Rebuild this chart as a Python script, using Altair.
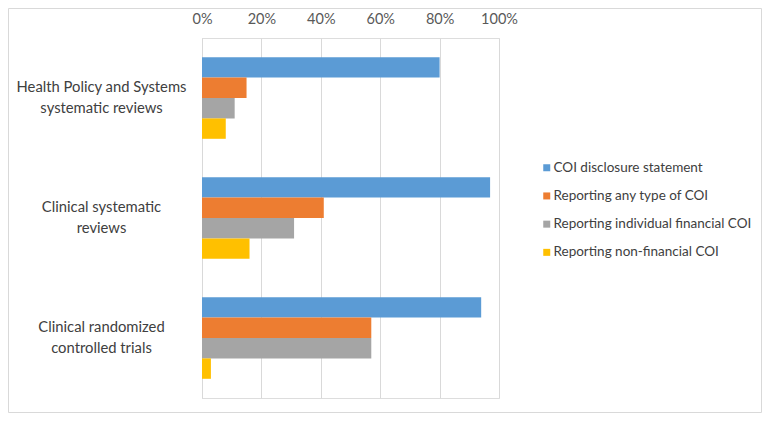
import altair as alt
import pandas as pd

categories = [
    "Health Policy and Systems|systematic reviews",
    "Clinical systematic|reviews",
    "Clinical randomized|controlled trials",
]
series = [
    "COI disclosure statement",
    "Reporting any type of COI",
    "Reporting individual financial COI",
    "Reporting non-financial COI",
]
disclosure = [80, 97, 94]
any_type = [15, 41, 57]
individual_fin = [11, 31, 57]
non_fin = [8, 16, 3]
colors = ["#5B9BD5", "#ED7D31", "#A5A5A5", "#FFC000"]
tick_values = [0, 0.2, 0.4, 0.6, 0.8, 1.0]

rows = []
for s, vals in zip(series, [disclosure, any_type, individual_fin, non_fin]):
    for c, v in zip(categories, vals):
        rows.append({"category": c, "series": s, "value": v / 100})
df = pd.DataFrame(rows)

FONT = "Lato"

bars = alt.Chart(df).mark_bar().encode(
    x=alt.X(
        "value:Q",
        scale=alt.Scale(domain=[0, 1], nice=False, zero=True),
        axis=alt.Axis(
            orient="top",
            values=tick_values,
            format=".0%",
            domain=False,
            ticks=False,
            tickSize=0,
            labelPadding=12,
            labelFlush=False,
            labelOverlap=False,
            grid=True,
            gridColor="#D9D9D9",
            gridWidth=1,
            labelColor="#595959",
            labelFont=FONT,
            labelFontSize=14.5,
            title=None,
        ),
    ),
    y=alt.Y(
        "category:N",
        sort=categories,
        scale=alt.Scale(paddingInner=0.32, paddingOuter=0.16),
        axis=alt.Axis(
            title=None,
            domain=True,
            domainColor="#D9D9D9",
            ticks=False,
            tickSize=0,
            labelAlign="center",
            labelBaseline="middle",
            labelPadding=101,
            labelOffset=-10.5,
            labelExpr="split(datum.label, '|')",
            labelLineHeight=21,
            labelColor="#404040",
            labelFont=FONT,
            labelFontSize=14.8,
            labelLimit=300,
        ),
    ),
    yOffset=alt.YOffset("series:N", sort=series, scale=alt.Scale(paddingInner=0, paddingOuter=0)),
    color=alt.Color(
        "series:N",
        sort=series,
        scale=alt.Scale(domain=series, range=colors),
        legend=alt.Legend(
            title=None,
            orient="none",
            legendX=338,
            legendY=123,
            symbolType="square",
            symbolSize=49,
            symbolStrokeWidth=0,
            labelOffset=0,
            rowPadding=13.2,
            padding=0,
            labelColor="#404040",
            labelFont=FONT,
            labelFontSize=13.5,
            labelLimit=300,
        ),
    ),
)

border = alt.Chart(alt.Data(values=[{"a": 1}])).mark_rect(
    fill="transparent", stroke="#D9D9D9", strokeWidth=1
).encode(
    x=alt.value(-193.5),
    x2=alt.value(559.5),
    y=alt.value(-29.5),
    y2=alt.value(374.5),
)

chart = alt.layer(bars, border).properties(
    width=297,
    height=360,
    autosize=alt.AutoSizeParams(type="none"),
    padding={"left": 194, "top": 30, "right": 263, "bottom": 15},
).configure_view(stroke=None).configure(background="white")

chart.save("out.html", embed_options={"renderer": "svg", "actions": False})
